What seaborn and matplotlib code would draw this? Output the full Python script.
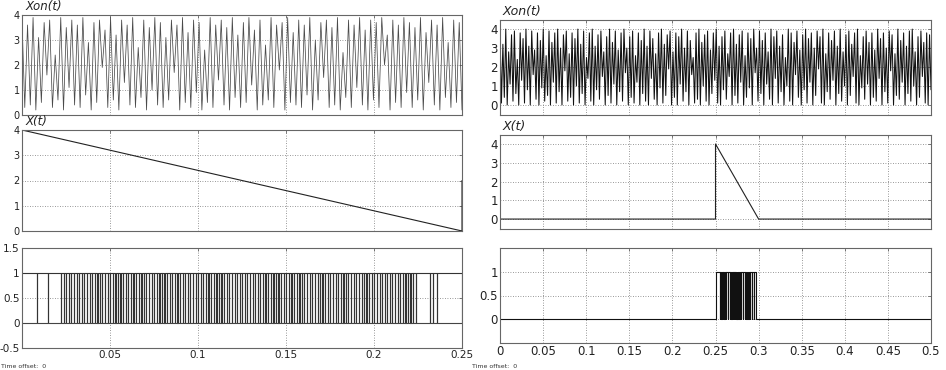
import numpy as np
import pandas as pd
import seaborn as sns
import matplotlib
matplotlib.use("Agg")
import matplotlib.pyplot as plt

sns.set_theme(style="white")
plt.rcParams['font.family'] = ['DejaVu Sans']

# ---------------- data ----------------
# Left column (0 .. 0.25 s)
xon_left = [
    3.8,0.3,3.6,0.4,3.9,0.2,3.1,0.5,3.7,1.6,3.8,0.3,2.4,0.6,3.9,0.2,3.5,1.1,3.8,0.4,
    3.6,0.3,3.9,0.8,2.9,0.2,3.7,0.5,3.8,1.9,3.4,0.3,3.9,0.6,3.2,0.2,3.8,1.3,3.6,0.4,
    3.9,0.3,2.7,0.7,3.8,0.2,3.5,1.0,3.9,0.4,3.7,0.3,3.1,0.6,3.8,1.7,3.6,0.2,3.9,0.5,
    3.3,0.3,3.8,0.9,3.7,0.2,2.6,0.5,3.9,0.3,3.6,1.4,3.8,0.4,3.5,0.2,3.9,0.7,3.2,0.3,
    3.7,0.5,3.9,1.2,3.4,0.2,3.8,0.4,2.8,0.6,3.9,0.3,3.6,1.8,3.7,0.2,3.9,0.5,3.3,0.4,
    3.8,0.3,3.6,0.8,3.9,0.2,3.0,0.6,3.7,1.5,3.8,0.3,3.5,0.4,3.9,0.2,2.5,0.7,3.8,0.3,
    3.6,1.1,3.9,0.4,3.4,0.2,3.8,0.6,3.7,0.3,3.9,2.0,3.2,0.2,3.8,0.5,3.6,0.3,3.9,0.9,
    3.7,0.3,3.5,0.6,3.9,0.2,3.3,1.3,3.8,0.4,3.6,0.2,3.9,0.7,2.9,0.3,3.8,0.5,3.7,0.2,
]
ramp_left_t = [0.0, 0.25, 0.25]
ramp_left_v = [4.0, 0.0, 2.0]
pulse_left = [
    0.0087, 0.0149, 0.0223,
    0.0236, 0.0250, 0.0266, 0.0279, 0.0294, 0.0310, 0.0325, 0.0339, 0.0353, 0.0369,
    0.0384, 0.0397, 0.0412, 0.0428, 0.0441, 0.0456, 0.0470, 0.0486, 0.0500, 0.0515,
    0.0531, 0.0544, 0.0559, 0.0574, 0.0590, 0.0603, 0.0618, 0.0633, 0.0647, 0.0662,
    0.0678, 0.0692, 0.0706, 0.0721, 0.0737, 0.0750, 0.0765, 0.0781, 0.0795, 0.0809,
    0.0824, 0.0840, 0.0853, 0.0868, 0.0883, 0.0898, 0.0912, 0.0927, 0.0943, 0.0956,
    0.0971, 0.0986, 0.1001, 0.1015, 0.1030, 0.1046, 0.1059, 0.1074, 0.1089, 0.1105,
    0.1118, 0.1133, 0.1148, 0.1163, 0.1177, 0.1192, 0.1208, 0.1221, 0.1236, 0.1251,
    0.1267, 0.1280, 0.1295, 0.1311, 0.1324, 0.1339, 0.1354, 0.1370, 0.1383, 0.1398,
    0.1414, 0.1428, 0.1442, 0.1457, 0.1473, 0.1486, 0.1501, 0.1517, 0.1531, 0.1545,
    0.1560, 0.1576, 0.1589, 0.1604, 0.1620, 0.1634, 0.1648, 0.1663, 0.1679, 0.1692,
    0.1707, 0.1723, 0.1737, 0.1751, 0.1766, 0.1782, 0.1795, 0.1810, 0.1826, 0.1840,
    0.1854, 0.1869, 0.1885, 0.1898, 0.1913, 0.1929, 0.1943, 0.1957, 0.1972, 0.1988,
    0.2001, 0.2016, 0.2032, 0.2046, 0.2060, 0.2075, 0.2091, 0.2104, 0.2119, 0.2135,
    0.2149, 0.2163, 0.2178, 0.2194, 0.2207, 0.2221, 0.2236,
    0.2318, 0.2333, 0.2358,
]

# Right column (0 .. 0.5 s)
xon_right = [
    3.9,0.1,3.2,0.4,4.0,0.0,2.8,1.1,3.7,0.2,3.9,0.6,2.4,0.0,3.8,1.3,3.5,0.1,4.0,0.8,
    3.1,0.0,3.9,1.6,2.9,0.3,3.8,0.0,3.4,0.9,4.0,0.2,2.6,0.5,3.9,0.0,3.3,1.2,3.8,0.1,
    4.0,0.7,3.0,0.0,3.7,1.8,3.9,0.2,2.7,0.4,3.8,0.0,3.5,1.0,4.0,0.1,3.2,0.6,3.9,0.0,
    2.5,1.4,3.8,0.2,4.0,0.0,3.1,0.8,3.7,0.3,3.9,1.5,2.8,0.0,3.6,0.5,4.0,0.1,3.3,1.1,
    3.9,0.0,2.9,0.7,3.8,0.2,4.0,1.7,3.0,0.0,3.6,0.4,3.9,0.1,2.6,1.2,3.8,0.0,3.4,0.6,
    4.0,0.2,3.1,0.0,3.9,1.4,3.5,0.3,2.7,0.0,3.8,0.9,4.0,0.1,3.2,0.5,3.7,1.9,3.9,0.0,
    2.8,0.4,3.8,0.0,3.6,1.1,4.0,0.2,3.0,0.7,3.9,0.0,3.4,1.6,2.5,0.1,3.8,0.3,4.0,0.0,
    3.3,1.0,3.7,0.2,3.9,0.0,2.9,0.6,3.8,1.3,4.0,0.1,3.1,0.0,3.6,0.8,3.9,0.3,2.7,1.5,
    3.8,0.0,4.0,0.5,3.2,0.1,3.7,1.2,3.9,0.0,2.6,0.4,3.8,0.9,3.5,0.0,4.0,1.7,3.0,0.2,
    3.9,0.6,3.4,0.0,3.8,1.1,2.8,0.3,4.0,0.0,3.6,1.4,3.9,0.1,3.1,0.7,3.7,0.0,2.5,1.0,
    4.0,0.2,3.8,0.0,3.3,1.6,3.9,0.4,2.9,0.0,3.7,0.8,4.0,0.1,3.5,1.2,3.8,0.0,3.0,0.5,
    3.9,1.9,3.6,0.1,4.0,0.0,2.7,0.7,3.8,0.3,3.4,1.3,3.9,0.0,3.1,0.6,4.0,0.2,2.8,1.0,
    3.7,0.0,3.9,0.5,3.2,1.5,3.8,0.1,4.0,0.0,2.6,0.9,3.6,0.3,3.9,1.1,3.3,0.0,3.8,0.4,
    2.9,0.2,4.0,1.4,3.5,0.0,3.8,0.7,3.0,0.1,3.9,1.8,3.7,0.0,2.7,0.5,4.0,0.3,3.4,1.2,
    3.8,0.0,3.1,0.6,3.9,0.2,4.0,1.0,2.8,0.0,3.6,0.4,3.9,1.5,3.3,0.1,3.8,0.0,3.7,0.8,
]
ramp_right_t = [0.0, 0.25, 0.25, 0.30, 0.50]
ramp_right_v = [0.0, 0.0, 4.0, 0.0, 0.0]
pulse_right_on = 0.25
pulse_right_off = 0.2965
pulse_right = [
    0.2548, 0.2566, 0.2583, 0.2601, 0.2621, 0.2642, 0.2663, 0.2684, 0.2698, 0.2712,
    0.2726, 0.2740, 0.2754, 0.2775, 0.2796, 0.2817, 0.2838, 0.2858, 0.2879, 0.2900,
    0.2921, 0.2945,
]

# ---------------- figure ----------------
W, H = 946, 370
fig = plt.figure(figsize=(W / 100, H / 100), dpi=100)

def add_ax(x0, y_top, w, h):
    return fig.add_axes([x0 / W, 1 - (y_top + h) / H, w / W, h / H])

GRID = dict(color="#777777", linestyle=(0, (1, 2)), linewidth=0.6)
SPINE = "#666666"

def style(ax, xlim, ylim, xticks, yticks, ylabels, show_x, xlabels=None, fs=7):
    ax.set_xlim(*xlim)
    ax.set_ylim(*ylim)
    ax.set_xticks(xticks)
    ax.set_yticks(yticks)
    ax.set_yticklabels(ylabels, fontsize=fs)
    if show_x:
        ax.set_xticklabels(xlabels, fontsize=fs)
    else:
        ax.set_xticklabels([])
    ax.grid(True, **GRID)
    ax.tick_params(direction="in", length=2.5, width=0.6, color=SPINE,
                   top=True, right=True, pad=1.5, labelcolor="#222222")
    for s in ax.spines.values():
        s.set_color(SPINE)
        s.set_linewidth(0.8)
    ax.set_xlabel("")
    ax.set_ylabel("")

def title(ax, text, fs=8.5):
    ax.text(0.007, 1.02, text, transform=ax.transAxes, style="italic",
            fontsize=fs, ha="left", va="bottom", color="#222222")

def pulses_to_step(on, off, dips, w, base_start, end):
    xs, ys = [base_start, on, on], [0, 0, 1]
    for d in dips:
        xs += [d, d, d + w, d + w]
        ys += [1, 0, 0, 1]
    xs += [off, off, end]
    ys += [1, 0, 0]
    return xs, ys

# ----- left column -----
LX0, LW = 22, 440
left_xt = [0, 0.05, 0.1, 0.15, 0.2, 0.25]

ax1 = add_ax(LX0, 15, LW, 100)
t1 = np.linspace(0, 0.25, len(xon_left))
sns.lineplot(x=t1, y=xon_left, ax=ax1, color="#4a4a4a", linewidth=0.55,
             sort=False, estimator=None)
style(ax1, (0, 0.25), (0, 4), left_xt, [0, 1, 2, 3, 4],
      ["0", "1", "2", "3", "4"], False)
title(ax1, "Xon(t)")

ax2 = add_ax(LX0, 130, LW, 101)
sns.lineplot(x=ramp_left_t, y=ramp_left_v, ax=ax2, color="#222222",
             linewidth=0.8, sort=False, estimator=None)
style(ax2, (0, 0.25), (0, 4), left_xt, [0, 1, 2, 3, 4],
      ["0", "1", "2", "3", "4"], False)
title(ax2, "X(t)")

ax3 = add_ax(LX0, 248, LW, 100)
lx, ly = pulses_to_step(0.0, 0.25, pulse_left, 0.0001, 0.0, 0.25)
ly = [1 if i < 2 else v for i, v in enumerate(ly)]
sns.lineplot(x=lx, y=ly, ax=ax3, color="#333333", linewidth=0.8,
             sort=False, estimator=None)
ax3.axhline(0, color="#444444", linewidth=0.8)
style(ax3, (0, 0.25), (-0.5, 1.5), left_xt, [-0.5, 0, 0.5, 1, 1.5],
      ["-0.5", "0", "0.5", "1", "1.5"], True,
      ["", "0.05", "0.1", "0.15", "0.2", "0.25"], fs=7.5)

# ----- right column -----
RX0, RW = 500, 431
right_xt = [0, 0.05, 0.1, 0.15, 0.2, 0.25, 0.3, 0.35, 0.4, 0.45, 0.5]
right_xl = ["0", "0.05", "0.1", "0.15", "0.2", "0.25", "0.3", "0.35", "0.4",
            "0.45", "0.5"]
rylim = (-0.53, 4.48)

ax4 = add_ax(RX0, 20, RW, 95)
t4 = np.linspace(0, 0.5, len(xon_right))
sns.lineplot(x=t4, y=xon_right, ax=ax4, color="#111111", linewidth=0.75,
             sort=False, estimator=None)
style(ax4, (0, 0.5), rylim, right_xt, [0, 1, 2, 3, 4],
      ["0", "1", "2", "3", "4"], False, fs=8.5)
title(ax4, "Xon(t)", fs=9)

ax5 = add_ax(RX0, 135, RW, 94)
sns.lineplot(x=ramp_right_t, y=ramp_right_v, ax=ax5, color="#222222",
             linewidth=0.8, sort=False, estimator=None)
style(ax5, (0, 0.5), rylim, right_xt, [0, 1, 2, 3, 4],
      ["0", "1", "2", "3", "4"], False, fs=8.5)
title(ax5, "X(t)", fs=9)

ax6 = add_ax(RX0, 248, RW, 95)
rx, ry = pulses_to_step(pulse_right_on, pulse_right_off, pulse_right, 0.0004,
                        0.0, 0.5)
sns.lineplot(x=rx, y=ry, ax=ax6, color="#111111", linewidth=0.8,
             sort=False, estimator=None)
style(ax6, (0, 0.5), (-0.5, 1.5), right_xt, [0, 0.5, 1],
      ["0", "0.5", "1"], True, right_xl, fs=8.5)

fig.text(1 / W, 1 - 366 / H, "Time offset:  0", fontsize=4.5, color="#333333",
         va="center", ha="left")
fig.text(472 / W, 1 - 366 / H, "Time offset:  0", fontsize=4.5, color="#333333",
         va="center", ha="left")

fig.savefig("out.png", dpi=100)
